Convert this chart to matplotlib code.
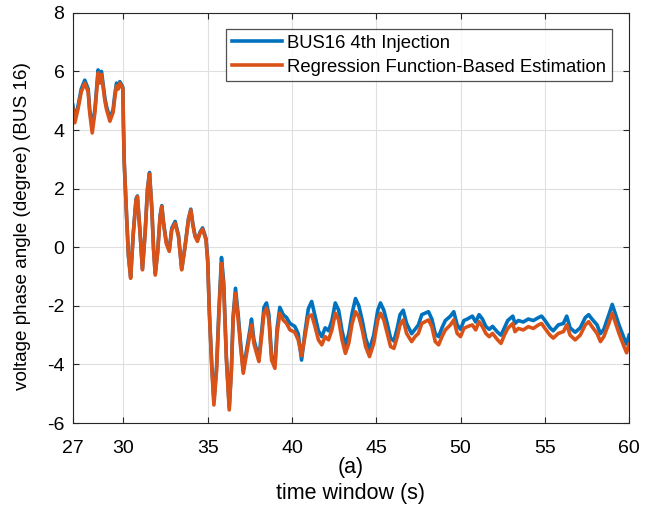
import matplotlib

matplotlib.use('Agg')

import matplotlib.pyplot as plt

# time stamps (s)
t = [27.0, 27.12, 27.32, 27.5, 27.71, 27.91, 28.0, 28.15, 28.31, 28.5, 28.6, 28.7, 28.9, 29.0,
     29.2, 29.39, 29.49, 29.59, 29.7, 29.79, 29.89, 29.97, 30.0, 30.05, 30.19, 30.3, 30.43,
     30.59, 30.75, 30.83, 30.99, 31.13, 31.29, 31.43, 31.55, 31.69, 31.79, 31.89, 32.03,
     32.18, 32.28, 32.38, 32.54, 32.72, 32.87, 33.07, 33.27, 33.46, 33.66, 33.86, 34.0,
     34.12, 34.25, 34.39, 34.55, 34.7, 34.9, 35.0, 35.1, 35.25, 35.37, 35.53, 35.67, 35.82,
     35.95, 36.11, 36.28, 36.41, 36.51, 36.65, 36.81, 36.95, 37.11, 37.31, 37.51, 37.6,
     37.74, 37.9, 38.04, 38.2, 38.34, 38.49, 38.63, 38.79, 38.99, 39.12, 39.28, 39.48,
     39.68, 39.88, 40.17, 40.37, 40.57, 40.77, 40.97, 41.17, 41.37, 41.57, 41.77, 41.97,
     42.17, 42.37, 42.57, 42.77, 42.97, 43.17, 43.37, 43.57, 43.77, 43.97, 44.17, 44.37,
     44.6, 44.85, 45.09, 45.25, 45.45, 45.65, 45.85, 46.05, 46.25, 46.41, 46.6, 46.8, 47.1,
     47.3, 47.5, 47.7, 47.9, 48.1, 48.3, 48.5, 48.7, 48.9, 49.1, 49.4, 49.6, 49.8, 50.0,
     50.2, 50.4, 50.7, 50.9, 51.1, 51.3, 51.5, 51.7, 51.9, 52.2, 52.4, 52.6, 52.8, 53.1,
     53.23, 53.43, 53.72, 54.02, 54.32, 54.62, 54.81, 55.01, 55.31, 55.5, 55.8, 56.1, 56.3,
     56.5, 56.8, 57.1, 57.4, 57.6, 57.8, 58.1, 58.3, 58.5, 58.8, 59.0, 59.2, 59.4, 59.7,
     59.85, 60.0]

# BUS16 4th injection (measured)
bus16 = [4.85, 4.35, 4.85, 5.4, 5.7, 5.4, 4.7, 4.1, 4.7, 6.05, 5.7, 6.0, 5.1, 4.8,
         4.4, 4.7, 5.2, 5.6, 5.5, 5.65, 5.55, 5.45, 4.3, 2.9, 1.05, -0.3, -1.0,
         0.5, 1.65, 1.75, 0.5, -0.75, 0.5, 2.0, 2.55, 1.3, -0.05, -0.9, -0.15,
         1.1, 1.42, 0.85, 0.2, -0.1, 0.65, 0.88, 0.4, -0.75, 0.05, 0.97, 1.3,
         0.8, 0.4, 0.25, 0.52, 0.66, 0.3, -0.4, -2.2, -4.1, -5.25, -4.05, -2.1, -0.35,
         -1.2, -3.75, -5.45, -4.1, -2.35, -1.4, -2.3, -3.25, -4.2, -3.5, -2.8, -2.45,
         -3.15, -3.5, -3.8, -2.9, -2.05, -1.9, -2.3, -3.7, -4.0, -2.75, -2.05, -2.3,
         -2.4, -2.6, -2.7, -2.95, -3.85, -2.9, -2.1, -1.85, -2.35, -2.85, -3.05, -2.75,
         -2.85, -2.5, -1.9, -2.15, -2.85, -3.35, -2.95, -2.25, -1.75, -2.0, -2.5, -3.1,
         -3.5, -3.0, -2.15, -1.9, -2.15, -2.6, -3.1, -3.2, -2.75, -2.3, -2.15, -2.6, -2.95,
         -2.8, -2.65, -2.3, -2.25, -2.2, -2.45, -2.95, -3.05, -2.75, -2.5, -2.35, -2.2, -2.65, -2.8,
         -2.5, -2.45, -2.35, -2.55, -2.3, -2.45, -2.7, -2.8, -2.7, -2.9, -3.0, -2.75, -2.5, -2.35,
         -2.6, -2.5, -2.55, -2.45, -2.5, -2.4, -2.35, -2.5, -2.75, -2.85, -2.65, -2.6, -2.35,
         -2.75, -2.9, -2.75, -2.4, -2.3, -2.45, -2.65, -2.95, -2.8, -2.3, -1.95, -2.3, -2.65, -3.1,
         -3.3, -3.0]

# regression function-based estimation
estimate = [4.75, 4.25, 4.75, 5.3, 5.6, 5.3, 4.6, 3.9, 4.6, 5.95, 5.6, 5.9, 5.0, 4.7,
            4.3, 4.6, 5.1, 5.5, 5.4, 5.6, 5.5, 5.4, 4.2, 2.9, 1.05, -0.3, -1.06,
            0.49, 1.6, 1.73, 0.49, -0.77, 0.49, 1.96, 2.5, 1.27, -0.09, -0.95, -0.2,
            1.05, 1.39, 0.82, 0.14, -0.14, 0.59, 0.82, 0.37, -0.77, 0.02, 0.94, 1.27,
            0.76, 0.37, 0.2, 0.49, 0.62, 0.25, -0.5, -2.25, -4.19, -5.38, -4.19, -2.25, -0.55,
            -1.34, -3.85, -5.55, -4.19, -2.48, -1.57, -2.48, -3.39, -4.3, -3.62, -2.94, -2.65,
            -3.28, -3.62, -3.9, -3.05, -2.25, -2.08, -2.48, -3.85, -4.13, -2.94, -2.25, -2.48,
            -2.6, -2.82, -2.9, -3.16, -3.7, -3.05, -2.37, -2.31, -2.71, -3.16, -3.33, -3.05,
            -3.16, -2.82, -2.25, -2.48, -3.16, -3.62, -3.28, -2.6, -2.2, -2.37, -2.82, -3.39,
            -3.73, -3.28, -2.48, -2.25, -2.48, -2.94, -3.39, -3.45, -3.05, -2.65, -2.48, -2.94, -3.22,
            -3.05, -2.94, -2.6, -2.54, -2.48, -2.71, -3.22, -3.33, -3.05, -2.82, -2.65, -2.48, -2.94, -3.05,
            -2.77, -2.71, -2.65, -2.82, -2.54, -2.71, -2.94, -3.05, -2.94, -3.16, -3.28, -3.0, -2.77, -2.6,
            -2.88, -2.77, -2.82, -2.71, -2.77, -2.65, -2.6, -2.77, -3.0, -3.1, -2.94, -2.88, -2.65,
            -3.0, -3.16, -3.0, -2.65, -2.54, -2.71, -2.94, -3.22, -3.05, -2.6, -2.25, -2.6, -2.94, -3.39,
            -3.6, -3.3]

xticks = [27, 30, 35, 40, 45, 50, 55, 60]
yticks = [-6, -4, -2, 0, 2, 4, 6, 8]

plt.rcParams['font.family'] = ['Liberation Sans', 'DejaVu Sans']
plt.rcParams['font.size'] = 13
plt.rcParams['axes.unicode_minus'] = False

fig = plt.figure(figsize=(6.56, 5.11), dpi=100)
ax = fig.add_axes([0.111, 0.172, 0.848, 0.803])

ax.plot(t, bus16, color='#0072BD', lw=2.6, label='BUS16 4th Injection')
ax.plot(t, estimate, color='#D95319', lw=2.6, label='Regression Function-Based Estimation')

ax.set_xlim(27, 60)
ax.set_ylim(-6, 8)
ax.set_xticks(xticks)
ax.set_yticks(yticks)
ax.grid(True, color='#dfdfdf', lw=0.8)
ax.set_axisbelow(True)
ax.tick_params(direction='in', top=True, right=True, length=4, width=0.8,
               labelsize=14, color='#262626')
ax.tick_params(axis='x', pad=12)
ax.tick_params(axis='y', pad=6)
for s in ax.spines.values():
    s.set_color('#262626')
    s.set_linewidth(0.8)

ax.set_ylabel('voltage phase angle (degree) (BUS 16)', fontsize=13.6)
ax.yaxis.set_label_coords(-0.075, 0.48)
ax.set_xlabel('(a)\ntime window (s)', fontsize=15.5, linespacing=1.35, labelpad=0)

leg = ax.legend(loc='upper right', bbox_to_anchor=(0.969, 0.960), fontsize=13.3,
                frameon=True, fancybox=False, edgecolor='#262626', handlelength=2.7,
                borderpad=0.3, labelspacing=0.38, handletextpad=0.3, borderaxespad=0)
leg.get_frame().set_linewidth(0.9)

fig.savefig('out.png', dpi=100)
